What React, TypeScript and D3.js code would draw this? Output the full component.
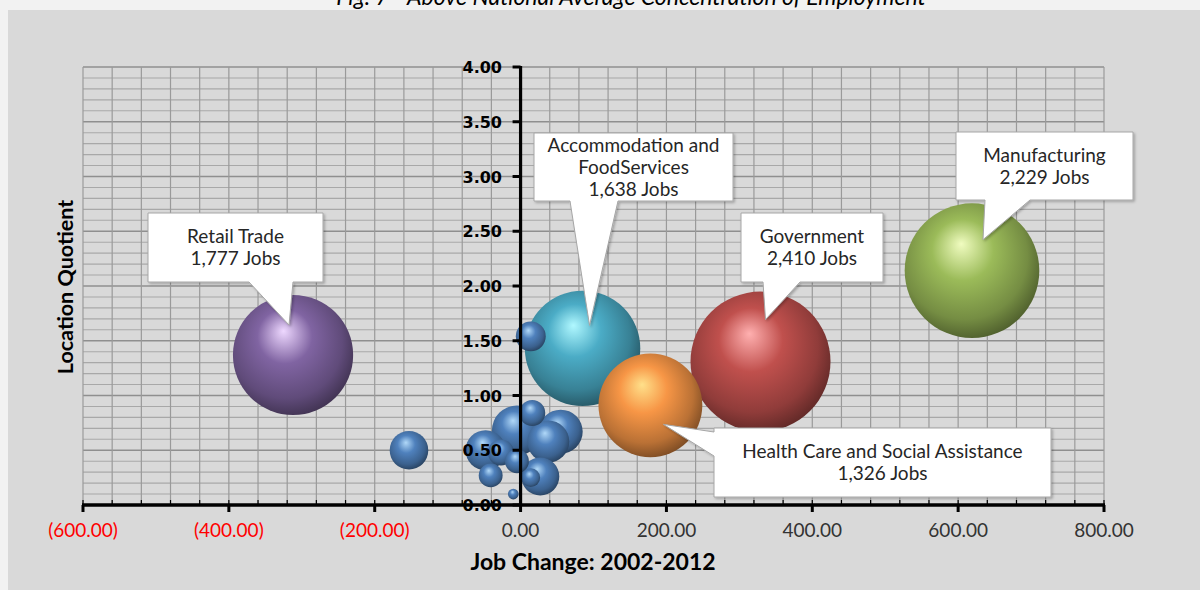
import React from "react";
import * as d3 from "d3";

// ---- Data ----
const industries = [
  "Retail Trade",
  "Accommodation and FoodServices",
  "Government",
  "Manufacturing",
  "Health Care and Social Assistance",
];
const industryJobChange = [-312, 85, 329, 619, 178];
const industryLQ = [1.37, 1.43, 1.31, 2.14, 0.91];
const industryJobs = [1777, 1638, 2410, 2229, 1326];
const industryLabelLines = [
  ["Retail Trade", "1,777 Jobs"],
  ["Accommodation and", "FoodServices", "1,638 Jobs"],
  ["Government", "2,410 Jobs"],
  ["Manufacturing", "2,229 Jobs"],
  ["Health Care and Social Assistance", "1,326 Jobs"],
];

// other (unlabelled) industries
const otherJobChange = [-5, 55, 38, -48, -153, 14, 27, 16, -27, -5, -41, 14, -10];
const otherLQ = [0.68, 0.67, 0.58, 0.5, 0.5, 1.54, 0.26, 0.84, 0.48, 0.4, 0.27, 0.25, 0.1];
const otherJobs = [307, 238, 217, 197, 183, 110, 178, 83, 83, 70, 70, 43, 14];

const xTicks = [-600, -400, -200, 0, 200, 400, 600, 800];
const yTicks = [0, 0.5, 1, 1.5, 2, 2.5, 3, 3.5, 4];

const titleText = "Fig. 7 - Above National Average Concentration of Employment";
const xTitle = "Job Change: 2002-2012";
const yTitle = "Location Quotient";

// ---- Styles / layout ----
const industryColors = ["#8064a2", "#4bacc6", "#c0504d", "#9bbb59", "#f79646"];
const industryHighlights = ["#eed8ff", "#b0f8ff", "#ffb0b0", "#f0fcc0", "#ffe08a"];
const otherColor = "#4f81bd";
const otherHighlight = "#b0d8f8";

// callout layout: box [x0,y0,x1,y1], pointer base, tip offset from bubble centre
const calloutLayout = [
  { box: [148, 213, 323, 282], side: "bottom", base: [249, 293], tip: [-4, -30] },
  { box: [534, 133, 733, 201], side: "bottom", base: [570, 618], tip: [7, -23] },
  { box: [741, 213, 883, 282], side: "bottom", base: [763, 800], tip: [5, -42] },
  { box: [956, 132, 1133, 200], side: "bottom", base: [985, 1030], tip: [11, -31] },
  { box: [714, 428, 1051, 497], side: "left", base: [432, 456], tip: [13, 19] },
];

const W = 1200;
const H = 590;

export default function App() {
  const x = d3.scaleLinear().domain([-600, 800]).range([83, 1104]);
  const y = d3.scaleLinear().domain([0, 4]).range([505, 67]);
  const r = d3.scaleSqrt().domain([0, 2410]).range([0, 70]);

  const vGrid = d3.range(-600, 801, 40);
  const hGrid = d3.range(0, 41, 1).map((d) => d / 10);

  const fmtX = (v: number) =>
    v < 0 ? `(${Math.abs(v).toFixed(2)})` : v.toFixed(2);

  const others = otherJobChange
    .map((v, i) => ({ x: v, y: otherLQ[i], s: otherJobs[i] }))
    .sort((a, b) => b.s - a.s);

  const gradStops = (hi: string, base: string) => {
    const c = d3.color(base)!;
    return [
      { o: "0%", c: hi },
      { o: "38%", c: base },
      { o: "78%", c: c.darker(0.8).formatHex() },
      { o: "100%", c: c.darker(1.9).formatHex() },
    ];
  };

  const sansFont = "Lato, 'Open Sans', sans-serif";

  return (
    <svg
      width={W}
      height={H}
      style={{ position: "absolute", left: 0, top: 0 }}
      xmlns="http://www.w3.org/2000/svg"
    >
      <defs>
        {industryColors.map((c, i) => (
          <radialGradient
            key={i}
            id={`g${i}`}
            cx="0.45"
            cy="0.42"
            r="0.6"
            fx="0.42"
            fy="0.3"
          >
            {gradStops(industryHighlights[i], c).map((s, j) => (
              <stop key={j} offset={s.o} stopColor={s.c} />
            ))}
          </radialGradient>
        ))}
        <radialGradient id="gOther" cx="0.45" cy="0.42" r="0.6" fx="0.42" fy="0.3">
          {gradStops(otherHighlight, otherColor).map((s, j) => (
            <stop key={j} offset={s.o} stopColor={s.c} />
          ))}
        </radialGradient>
        <filter id="shadow" x="-10%" y="-10%" width="130%" height="130%">
          <feDropShadow dx="1.5" dy="1.5" stdDeviation="1.2" floodColor="#000" floodOpacity="0.25" />
        </filter>
      </defs>

      <rect x={0} y={0} width={W} height={H} fill="#f2f2f2" />
      <text
        x={631}
        y={5}
        textAnchor="middle"
        fontFamily={sansFont}
        fontStyle="italic"
        fontSize={23}
        fill="#000"
      >
        {titleText}
      </text>
      <rect x={8} y={10} width={W - 8} height={H - 10} fill="#d9d9d9" />

      {/* grid */}
      {hGrid.map((v, i) => {
        const major = Math.round(v * 10) % 5 === 0;
        return (
          <line
            key={`h${i}`}
            x1={x(-600)}
            x2={x(800)}
            y1={y(v)}
            y2={y(v)}
            stroke={major ? "#8f8f8f" : "#a8a8a8"}
            strokeWidth={major ? 1.6 : 1.1}
          />
        );
      })}
      {vGrid.map((v, i) => (
        <line
          key={`v${i}`}
          x1={x(v)}
          x2={x(v)}
          y1={y(4)}
          y2={y(0)}
          stroke="#9a9a9a"
          strokeWidth={1.2}
        />
      ))}

      {/* industry bubbles */}
      {industries.map((name, i) => (
        <circle
          key={`b${i}`}
          cx={x(industryJobChange[i])}
          cy={y(industryLQ[i])}
          r={r(industryJobs[i])}
          fill={`url(#g${i})`}
        >
          <title>{name}</title>
        </circle>
      ))}

      {/* other bubbles */}
      {others.map((d, i) => (
        <circle
          key={`o${i}`}
          cx={x(d.x)}
          cy={y(d.y)}
          r={r(d.s)}
          fill="url(#gOther)"
        />
      ))}

      {/* y tick labels (drawn over bubbles) */}
      {yTicks.map((v, i) => (
        <text
          key={`yl${i}`}
          x={502}
          y={y(v) + 6}
          textAnchor="end"
          fontFamily="'DejaVu Sans', sans-serif"
          fontWeight="bold"
          fontSize={16}
          fill="#000"
        >
          {v.toFixed(2)}
        </text>
      ))}

      {/* axes */}
      <line x1={x(0)} x2={x(0)} y1={y(4) - 1} y2={y(0)} stroke="#000" strokeWidth={3.2} />
      {yTicks.map((v, i) => (
        <line
          key={`yt${i}`}
          x1={x(0) - 8}
          x2={x(0)}
          y1={y(v)}
          y2={y(v)}
          stroke="#000"
          strokeWidth={3}
        />
      ))}
      <line x1={x(-600) - 1} x2={x(800) + 1} y1={y(0)} y2={y(0)} stroke="#000" strokeWidth={3.5} />
      {vGrid.map((v, i) => (
        <line
          key={`xm${i}`}
          x1={x(v)}
          x2={x(v)}
          y1={y(0) - 5}
          y2={y(0)}
          stroke="#000"
          strokeWidth={1.2}
        />
      ))}
      {xTicks.map((v, i) => (
        <line
          key={`xt${i}`}
          x1={x(v)}
          x2={x(v)}
          y1={y(0)}
          y2={y(0) + 7}
          stroke="#000"
          strokeWidth={3}
        />
      ))}
      {xTicks.map((v, i) => (
        <text
          key={`xl${i}`}
          x={x(v)}
          y={537}
          textAnchor="middle"
          fontFamily={sansFont}
          fontSize={19}
          fill={v < 0 ? "#ff0000" : "#333333"}
        >
          {fmtX(v)}
        </text>
      ))}

      {/* callouts */}
      {industries.map((name, i) => {
        const L = calloutLayout[i];
        const [x0, y0, x1, y1] = L.box;
        const tx = x(industryJobChange[i]) + L.tip[0];
        const ty = y(industryLQ[i]) + L.tip[1];
        const p = d3.path();
        if (L.side === "bottom") {
          p.moveTo(x0, y0);
          p.lineTo(x1, y0);
          p.lineTo(x1, y1);
          p.lineTo(L.base[1], y1);
          p.lineTo(tx, ty);
          p.lineTo(L.base[0], y1);
          p.lineTo(x0, y1);
          p.closePath();
        } else {
          p.moveTo(x0, y0);
          p.lineTo(x1, y0);
          p.lineTo(x1, y1);
          p.lineTo(x0, y1);
          p.lineTo(x0, L.base[1]);
          p.lineTo(tx, ty);
          p.lineTo(x0, L.base[0]);
          p.closePath();
        }
        const lines = industryLabelLines[i];
        const cx = (x0 + x1) / 2;
        const cy = (y0 + y1) / 2;
        const lh = 22;
        const startY = cy - ((lines.length - 1) * lh) / 2;
        return (
          <g key={`c${i}`}>
            <path
              d={p.toString()}
              fill="#ffffff"
              stroke="#a6a6a6"
              strokeWidth={1}
              filter="url(#shadow)"
            />
            {lines.map((t, j) => (
              <text
                key={j}
                x={cx}
                y={startY + j * lh + 6.5}
                textAnchor="middle"
                fontFamily={sansFont}
                fontSize={19}
                fill="#262626"
              >
                {t}
              </text>
            ))}
          </g>
        );
      })}

      {/* axis titles */}
      <text
        x={593}
        y={570}
        textAnchor="middle"
        fontFamily={sansFont}
        fontWeight="bold"
        fontSize={23}
        fill="#000"
      >
        {xTitle}
      </text>
      <text
        transform="translate(73,287) rotate(-90)"
        textAnchor="middle"
        fontFamily={sansFont}
        fontWeight="bold"
        fontSize={21.5}
        fill="#000"
      >
        {yTitle}
      </text>
    </svg>
  );
}
